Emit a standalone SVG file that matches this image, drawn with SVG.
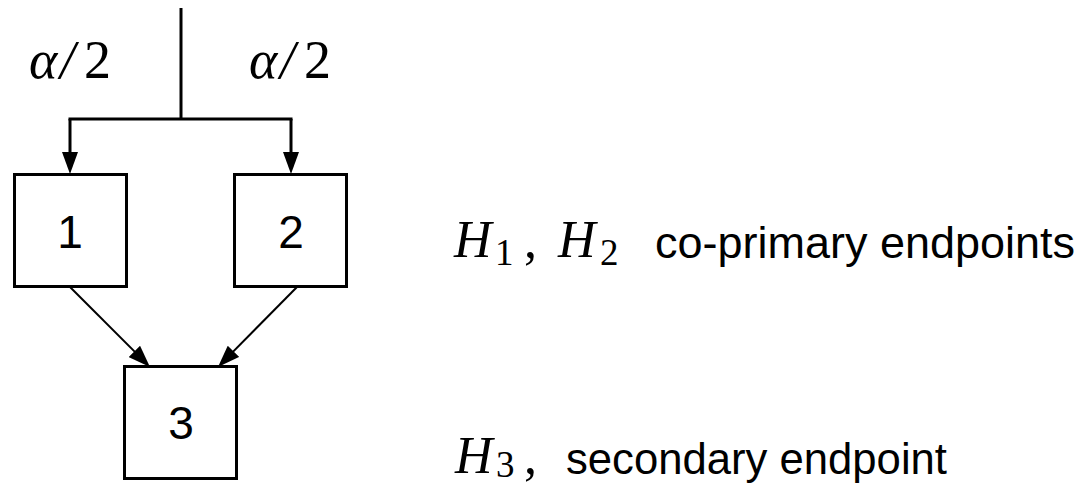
<svg xmlns="http://www.w3.org/2000/svg" width="1082" height="485" viewBox="0 0 1082 485">
<defs>
<style>
.box{fill:#fff;stroke:#000;stroke-width:3}
.num{font-family:"Liberation Sans",Arial,sans-serif;font-size:46px;text-anchor:middle;fill:#000}
.math{font-family:"Liberation Serif","Times New Roman",serif;fill:#000}
.txt{font-family:"Liberation Sans",Arial,sans-serif;font-size:44px;fill:#000}
.thick{fill:none;stroke:#000;stroke-width:3}
.thin{fill:none;stroke:#000;stroke-width:2}
</style>
<marker id="ah" markerUnits="userSpaceOnUse" markerWidth="22" markerHeight="16" viewBox="0 0 22 16" refX="12" refY="8" orient="auto">
<path d="M0 0 L22 8 L0 16 z" fill="#000"/>
</marker>
</defs>
<g id="connectors">
<path class="thick" d="M181 8 V119"/>
<path class="thick" d="M68.5 119 H292.5"/>
<path class="thick" d="M70 119 V164" marker-end="url(#ah)"/>
<path class="thick" d="M291 119 V164" marker-end="url(#ah)"/>
<path class="thin" d="M70 287 L142.9 359.9" marker-end="url(#ah)"/>
<path class="thin" d="M297 287 L225 359.9" marker-end="url(#ah)"/>
</g>
<g id="label-left">
<text class="math" x="29" y="78" font-size="54"><tspan font-style="italic">α</tspan><tspan x="60" font-style="italic">/</tspan><tspan x="84">2</tspan></text>
</g>
<g id="label-right">
<text class="math" x="249" y="78" font-size="54"><tspan font-style="italic">α</tspan><tspan x="280" font-style="italic">/</tspan><tspan x="304">2</tspan></text>
</g>
<g id="node1">
<rect class="box" x="14.5" y="174.5" width="112" height="112"/>
<text class="num" x="70" y="248">1</text>
</g>
<g id="node2">
<rect class="box" x="234.5" y="174.5" width="112" height="112"/>
<text class="num" x="291" y="248">2</text>
</g>
<g id="node3">
<rect class="box" x="124.5" y="366.5" width="112" height="112"/>
<text class="num" x="181" y="439">3</text>
</g>
<g id="text-coprimary">
<text class="math" font-size="52" x="454" y="257" font-style="italic">H</text>
<text class="math" font-size="37" x="495" y="265">1</text>
<text class="math" font-size="52" x="524" y="257">,</text>
<text class="math" font-size="52" x="558" y="257" font-style="italic">H</text>
<text class="math" font-size="37" x="600" y="265">2</text>
<text class="txt" x="655" y="258" textLength="420" lengthAdjust="spacingAndGlyphs">co-primary endpoints</text>
</g>
<g id="text-secondary">
<text class="math" font-size="52" x="455" y="473" font-style="italic">H</text>
<text class="math" font-size="37" x="496" y="477">3</text>
<text class="math" font-size="52" x="524" y="473">,</text>
<text class="txt" x="566" y="474" textLength="381" lengthAdjust="spacingAndGlyphs">secondary endpoint</text>
</g>
</svg>
